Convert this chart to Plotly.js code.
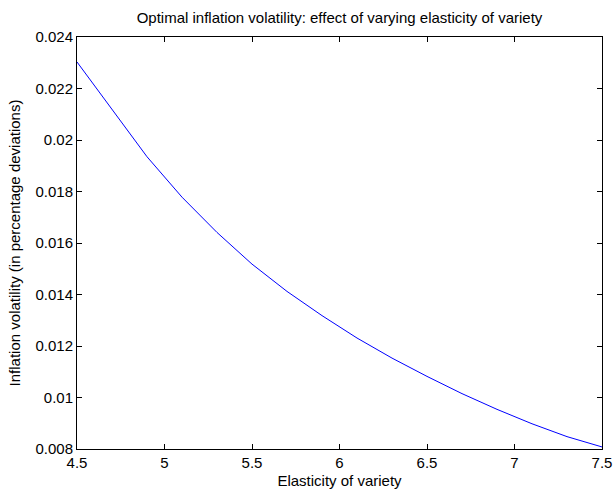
<!DOCTYPE html>
<html>
<head>
<meta charset="utf-8">
<script src="https://cdn.plot.ly/plotly-3.0.1.min.js"></script>
<style>html,body{margin:0;padding:0;background:#fff;}#chart{width:614px;height:495px;}</style>
</head>
<body>
<div id="chart"></div>
<script>
const elasticity = [4.5, 4.7, 4.9, 5.1, 5.3, 5.5, 5.7, 5.9, 6.1, 6.3, 6.5, 6.7, 6.9, 7.1, 7.3, 7.5];
const volatility = [0.02303, 0.02117, 0.01935, 0.01778, 0.01641, 0.01518, 0.01412, 0.01318, 0.01231, 0.01153, 0.01082, 0.01015, 0.00954, 0.00898, 0.00848, 0.00808];
const xTicks = [4.5, 5, 5.5, 6, 6.5, 7, 7.5];
const xTickText = ['4.5', '5', '5.5', '6', '6.5', '7', '7.5'];
const yTicks = [0.008, 0.01, 0.012, 0.014, 0.016, 0.018, 0.02, 0.022, 0.024];
const yTickText = ['0.008', '0.01', '0.012', '0.014', '0.016', '0.018', '0.02', '0.022', '0.024'];

const font = {family: 'Liberation Sans, Arial, Helvetica, sans-serif', size: 15, color: '#000'};

const data = [{
  x: elasticity, y: volatility, type: 'scatter', mode: 'lines',
  line: {color: '#0000ff', width: 1}, hoverinfo: 'skip'
}];

const axisCommon = {
  showline: true, linecolor: '#000', linewidth: 1, mirror: 'ticks',
  ticks: 'inside', ticklen: 5, tickwidth: 1, tickcolor: '#000',
  showgrid: false, zeroline: false, tickfont: font
};

const layout = {
  width: 614, height: 495,
  margin: {l: 77, r: 12, t: 37, b: 46, pad: 0},
  paper_bgcolor: '#fff', plot_bgcolor: '#fff',
  font: font, showlegend: false,
  title: {text: 'Optimal inflation volatility: effect of varying elasticity of variety',
          font: font, x: 0.5, xref: 'paper', y: 1 - 18/495, yref: 'container', yanchor: 'middle'},
  xaxis: Object.assign({}, axisCommon, {
    range: [4.5, 7.5], tickvals: xTicks, ticktext: xTickText,
    title: {text: 'Elasticity of variety', font: font, standoff: 5}
  }),
  yaxis: Object.assign({}, axisCommon, {
    range: [0.008, 0.024], tickvals: yTicks, ticktext: yTickText,
    title: {text: 'Inflation volatility (in percentage deviations)', font: font, standoff: 11}
  })
};

Plotly.newPlot('chart', data, layout, {staticPlot: true, displayModeBar: false});
</script>
</body>
</html>
